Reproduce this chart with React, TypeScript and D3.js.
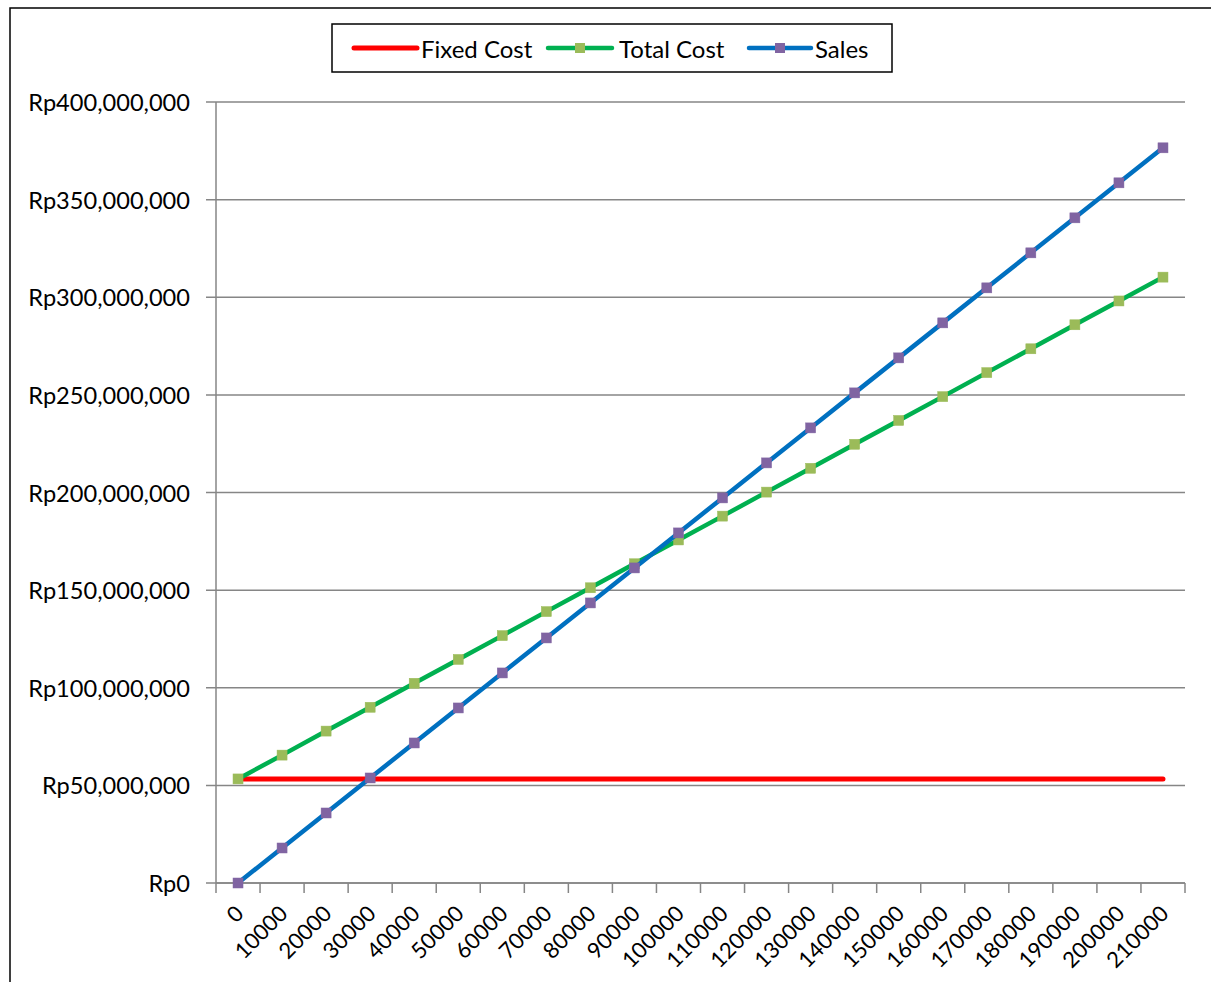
import React from "react";
import * as d3 from "d3";

const categories = ["0","10000","20000","30000","40000","50000","60000","70000","80000","90000","100000","110000","120000","130000","140000","150000","160000","170000","180000","190000","200000","210000"];
const fixedCost = [53300000,53300000,53300000,53300000,53300000,53300000,53300000,53300000,53300000,53300000,53300000,53300000,53300000,53300000,53300000,53300000,53300000,53300000,53300000,53300000,53300000,53300000];
const totalCost = [53300000,65500000,77800000,90000000,102300000,114500000,126700000,139000000,151200000,163500000,175700000,187900000,200200000,212400000,224700000,236900000,249100000,261400000,273600000,285900000,298100000,310300000];
const sales = [0,17930000,35860000,53790000,71720000,89650000,107580000,125510000,143440000,161370000,179300000,197230000,215160000,233090000,251020000,268950000,286880000,304810000,322740000,340670000,358600000,376530000];
const yTicks = [0,50000000,100000000,150000000,200000000,250000000,300000000,350000000,400000000];

const W = 1211, H = 982;
const FONT = "Lato, 'Open Sans', sans-serif";

export default function App() {
  const x = d3.scaleBand<string>().domain(categories).range([216, 1185]).padding(0);
  const y = d3.scaleLinear().domain([0, 400000000]).range([883, 102]);
  const cx = (c: string) => (x(c) as number) + x.bandwidth() / 2;
  const fmt = (v: number) => "Rp" + d3.format(",")(v);
  const line = (vals: number[]) =>
    d3.line<number>().x((_, i) => cx(categories[i])).y((v) => y(v))(vals) as string;
  const tickXs = categories.map((c) => x(c) as number).concat([1185]);
  const ms = 10;

  return (
    <svg width={W} height={H} style={{ position: "absolute", left: 0, top: 0, background: "#fff" }} fontFamily={FONT}>
      <rect x={0} y={0} width={W} height={H} fill="#fff" />
      <rect x={10} y={8} width={1215} height={1000} fill="none" stroke="#000" strokeWidth={1.5} />
      {/* gridlines */}
      {yTicks.map((t) => (
        <g key={t}>
          <line x1={206} x2={1185} y1={y(t)} y2={y(t)} stroke="#868686" strokeWidth={1.5} />
          <text x={190} y={y(t)} textAnchor="end" dominantBaseline="central" fontSize={23.6} fill="#000">{fmt(t)}</text>
        </g>
      ))}
      {/* axes */}
      <line x1={216} x2={216} y1={102} y2={883} stroke="#868686" strokeWidth={1.5} />
      <line x1={216} x2={1185} y1={883} y2={883} stroke="#868686" strokeWidth={1.5} />
      {tickXs.map((tx, i) => (
        <line key={i} x1={tx} x2={tx} y1={883} y2={893} stroke="#868686" strokeWidth={1.5} />
      ))}
      {categories.map((c) => (
        <text key={c} transform={`translate(${cx(c) + 1},${909}) rotate(-45)`} textAnchor="end" dominantBaseline="central" fontSize={22} fill="#000">{c}</text>
      ))}
      {/* series */}
      <path d={line(fixedCost)} fill="none" stroke="#FF0000" strokeWidth={5} strokeLinecap="round" />
      <path d={line(totalCost)} fill="none" stroke="#00B050" strokeWidth={4.5} strokeLinejoin="round" />
      {totalCost.map((v, i) => (
        <rect key={i} x={cx(categories[i]) - ms / 2} y={y(v) - ms / 2} width={ms} height={ms} fill="#9BBB59" stroke="#9BBB59" strokeWidth={0.5} />
      ))}
      <path d={line(sales)} fill="none" stroke="#0070C0" strokeWidth={4.5} strokeLinejoin="round" />
      {sales.map((v, i) => (
        <rect key={i} x={cx(categories[i]) - ms / 2} y={y(v) - ms / 2} width={ms} height={ms} fill="#8064A2" stroke="#8064A2" strokeWidth={0.5} />
      ))}
      {/* legend */}
      <rect x={332} y={24} width={560} height={48} fill="#fff" stroke="#000" strokeWidth={1.5} />
      <line x1={354} x2={417} y1={48} y2={48} stroke="#FF0000" strokeWidth={5} strokeLinecap="round" />
      <text x={421} y={48} dominantBaseline="central" fontSize={24} fill="#000">Fixed Cost</text>
      <line x1={548} x2={612} y1={48} y2={48} stroke="#00B050" strokeWidth={4.5} strokeLinecap="round" />
      <rect x={580 - ms / 2} y={48 - ms / 2} width={ms} height={ms} fill="#9BBB59" />
      <text x={619} y={48} dominantBaseline="central" fontSize={24} fill="#000">Total Cost</text>
      <line x1={749} x2={811} y1={48} y2={48} stroke="#0070C0" strokeWidth={4.5} strokeLinecap="round" />
      <rect x={780 - ms / 2} y={48 - ms / 2} width={ms} height={ms} fill="#8064A2" />
      <text x={815} y={48} dominantBaseline="central" fontSize={24} fill="#000">Sales</text>
    </svg>
  );
}
